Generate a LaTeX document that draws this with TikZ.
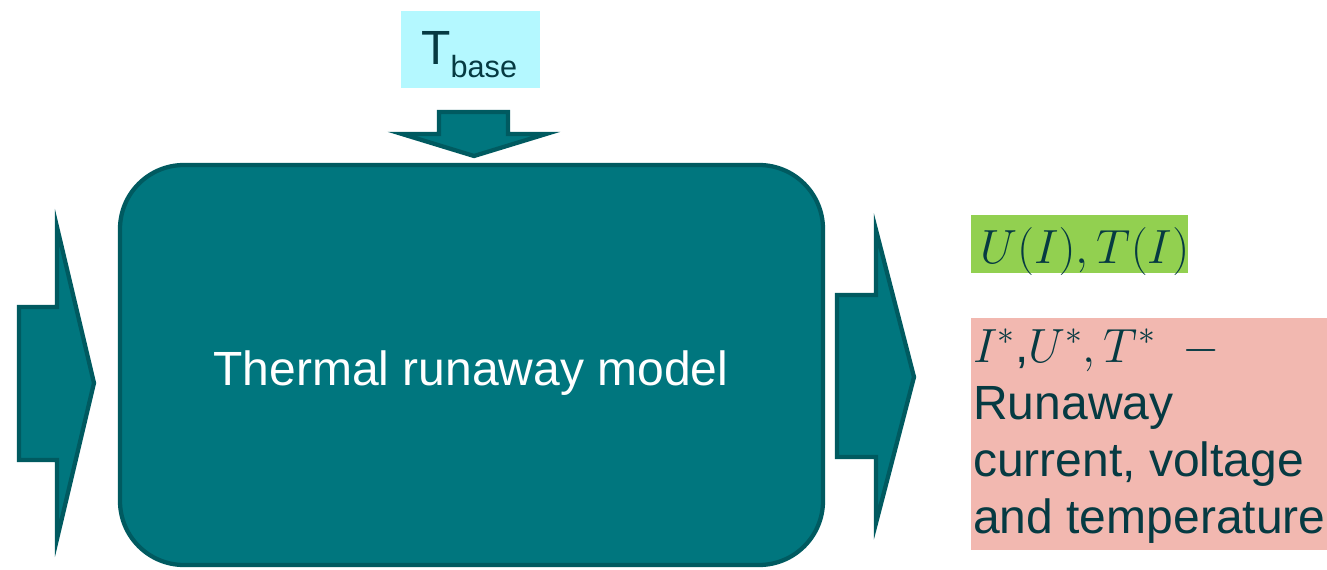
\RequirePackage{fix-cm}
\documentclass[tikz,border=0pt]{standalone}
\usepackage[no-math]{fontspec}
\setmainfont{Liberation Sans}
\usetikzlibrary{fit}

\definecolor{tealfill}{HTML}{00767E}
\definecolor{tealline}{HTML}{005A60}
\definecolor{cyanbox}{HTML}{B4F8FF}
\definecolor{greenbox}{HTML}{92D050}
\definecolor{pinkbox}{HTML}{F2B8B0}
\definecolor{inktext}{HTML}{063A42}

\tikzset{
  blockarrow/.style={fill=tealfill, draw=tealline, line width=3.2pt, line join=miter},
  modelbox/.style={fill=tealfill, draw=tealline, line width=3.2pt, rounded corners=48pt, inner sep=0pt},
  tagbox/.style={inner sep=0pt, draw=none},
  bigtext/.style={font=\fontsize{36}{42.75}\selectfont},
  tagtext/.style={inner sep=0pt, text=inktext, bigtext},
}

\begin{document}
\begin{tikzpicture}[x=0.75pt, y=-0.75pt]
  \useasboundingbox (0,0) rectangle (1327,570);

  % central model block
  \node[modelbox, fit={(120,165) (823,565)}] (model) {};
  \node[inner sep=0pt, text=white, bigtext, anchor=base] (modellabel)
    at (471,385) {Thermal runaway model};

  % base temperature input
  \node[tagbox, fill=cyanbox, fit={(401,11) (540,88)}] (tbase) {};
  \node[tagtext, anchor=base west] (tbaselabel) at (421,65)
    {T\raisebox{-9.75pt}{\fontsize{23}{23}\selectfont base}};

  % block arrows
  \draw[blockarrow] (439,112) -- (508,112) -- (508,134) -- (546,134)
    -- (474,156) -- (402,134) -- (439,134) -- cycle;
  \draw[blockarrow] (19,307) -- (57,307) -- (57,227) -- (94,383)
    -- (57,539) -- (57,460) -- (19,460) -- cycle;
  \draw[blockarrow] (837,295) -- (876,295) -- (876,230) -- (914,377)
    -- (876,523) -- (876,457) -- (837,457) -- cycle;

  % outputs
  \node[tagbox, fill=greenbox, fit={(971,215) (1188,273)}] (curves) {};
  \node[tagtext, anchor=base west] (curveslabel) at (980,263) {$U(I),T(I)$};

  \node[tagbox, fill=pinkbox, fit={(971,318) (1327,550)}] (runaway) {};
  \node[tagtext, anchor=north west, align=left] (runawaylabel) at (973,329)
    {$I^{*}$,$U^{*},T^{*}$\ \ $-$\\Runaway\\current, voltage\\and temperature};
\end{tikzpicture}
\end{document}
